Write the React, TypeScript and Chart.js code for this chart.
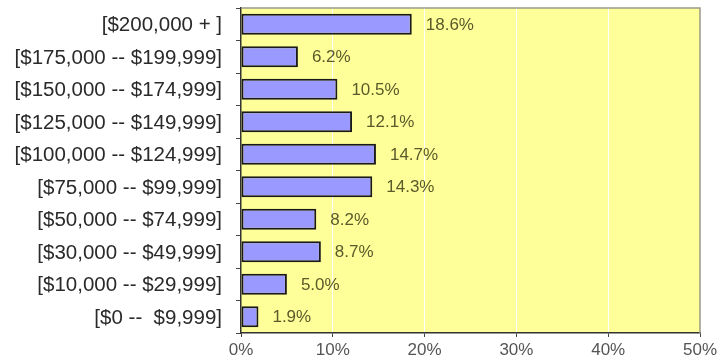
import React, { useEffect, useRef } from "react";
import { Chart, registerables } from "chart.js";

Chart.register(...registerables);

const categories = [
  "[$200,000 + ]",
  "[$175,000 -- $199,999]",
  "[$150,000 -- $174,999]",
  "[$125,000 -- $149,999]",
  "[$100,000 -- $124,999]",
  "[$75,000 -- $99,999]",
  "[$50,000 -- $74,999]",
  "[$30,000 -- $49,999]",
  "[$10,000 -- $29,999]",
  "[$0 --  $9,999]",
];
const values = [18.6, 6.2, 10.5, 12.1, 14.7, 14.3, 8.2, 8.7, 5.0, 1.9];
const xMin = 0;
const xMax = 50;
const xStep = 10;

const FONT = "'Liberation Sans', Arial, sans-serif";

const plotBg = {
  id: "plotBg",
  beforeDraw(chart: any) {
    const { ctx, chartArea } = chart;
    ctx.save();
    ctx.fillStyle = "#ffff99";
    ctx.fillRect(chartArea.left, chartArea.top, chartArea.right - chartArea.left, chartArea.bottom - chartArea.top);
    ctx.restore();
  },
  afterDatasetsDraw(chart: any) {
    const { ctx, chartArea } = chart;
    ctx.save();
    ctx.strokeStyle = "#9a9a88";
    ctx.lineWidth = 1.5;
    ctx.beginPath();
    ctx.moveTo(chartArea.left, chartArea.top);
    ctx.lineTo(chartArea.right, chartArea.top);
    ctx.lineTo(chartArea.right, chartArea.bottom);
    ctx.stroke();
    ctx.restore();
    const meta = chart.getDatasetMeta(0);
    ctx.save();
    ctx.font = "17px " + FONT;
    ctx.fillStyle = "#5a5a2a";
    ctx.textBaseline = "middle";
    ctx.textAlign = "left";
    meta.data.forEach((bar: any, i: number) => {
      ctx.fillText(values[i].toFixed(1) + "%", bar.x + 14, bar.y + 1);
    });
    ctx.restore();
  },
};

export default function App() {
  const ref = useRef<HTMLCanvasElement | null>(null);
  useEffect(() => {
    if (!ref.current) return;
    const chart = new Chart(ref.current, {
      type: "bar",
      data: {
        labels: categories,
        datasets: [
          {
            data: values,
            backgroundColor: "#9999ff",
            borderColor: "#1a1a1a",
            borderWidth: 2,
            borderSkipped: false,
            barPercentage: 0.64,
            categoryPercentage: 1,
          },
        ],
      },
      options: {
        indexAxis: "y",
        animation: false,
        responsive: false,
        maintainAspectRatio: false,
        layout: { autoPadding: false, padding: { top: 8, right: 20, left: 0, bottom: 0 } },
        plugins: { legend: { display: false }, tooltip: { enabled: false } },
        scales: {
          x: {
            min: xMin,
            max: xMax,
            ticks: {
              stepSize: xStep,
              callback: (v: any) => v + "%",
              color: "#555555",
              font: { family: FONT, size: 17 },
              padding: 3,
              maxRotation: 0,
            },
            grid: {
              color: (c: any) => (c.tick && (c.tick.value === xMin || c.tick.value === xMax) ? "rgba(0,0,0,0)" : "#ffffff"),
              lineWidth: 1,
              tickColor: "#444444",
              tickLength: 4,
            },
            border: { color: "#333333", width: 1.5 },
            afterFit: (s: any) => {
              s.height = 31;
              s.paddingLeft = 0;
              s.paddingRight = 0;
            },
          },
          y: {
            ticks: {
              color: "#2a2a2a",
              font: { family: FONT, size: 20.5 },
              padding: 14,
              labelOffset: 1.5,
            },
            grid: {
              offset: true,
              drawOnChartArea: false,
              tickColor: "#444444",
              tickLength: 5,
            },
            border: { color: "#333333", width: 1.5 },
            afterFit: (s: any) => {
              s.width = 241;
              s.paddingTop = 0;
              s.paddingBottom = 0;
            },
          },
        },
      },
      plugins: [plotBg],
    });
    return () => chart.destroy();
  }, []);
  return (
    <div style={{ position: "fixed", left: 0, top: 0, width: 720, height: 364, background: "#ffffff" }}>
      <canvas ref={ref} width={720} height={364} style={{ width: 720, height: 364 }} />
    </div>
  );
}
